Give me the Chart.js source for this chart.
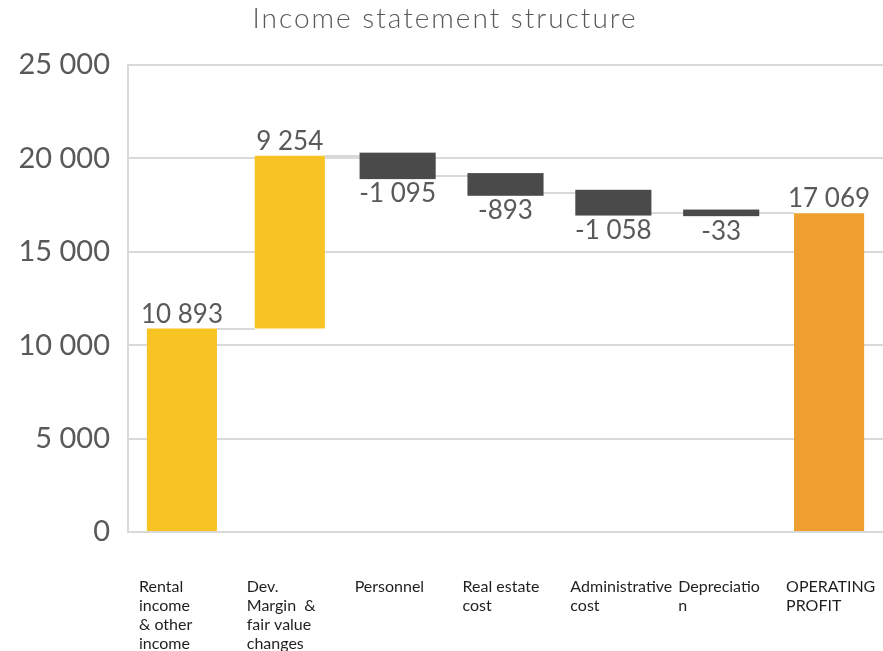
<!DOCTYPE html>
<html>
<head>
<meta charset="utf-8">
<script src="https://cdn.jsdelivr.net/npm/chart.js@4/dist/chart.umd.min.js"></script>
<style>
html,body{margin:0;padding:0;background:#fff;}
#wrap{width:883px;height:651px;position:relative;}
</style>
</head>
<body>
<div id="wrap"><canvas id="c" width="883" height="651"></canvas></div>
<script>
const title = 'Income statement structure';
const categories = [
  ['Rental','income','& other','income'],
  ['Dev.','Margin  &','fair value','changes'],
  ['Personnel'],
  ['Real estate','cost'],
  ['Administrative','cost'],
  ['Depreciatio','n'],
  ['OPERATING','PROFIT']
];
const values = [10893, 9254, -1095, -893, -1058, -33, 17069];
const isTotal = [false, false, false, false, false, false, true];
const yTicks = [0, 5000, 10000, 15000, 20000, 25000];
const colors = {pos:'#F8C424', neg:'#4A4A4A', negEdge:'#4A4A4A', total:'#EF9F30'};

// floating bar ranges built from the values
const ranges = [];
let run = 0;
values.forEach((v,i)=>{
  if (isTotal[i]) { ranges.push([0, v]); run = v; }
  else { ranges.push([run, run + v]); run += v; }
});
const barColors = values.map((v,i)=> isTotal[i] ? colors.total : (v < 0 ? colors.neg : colors.pos));

function fmt(n){
  const s = Math.abs(n).toString().replace(/\B(?=(\d{3})+(?!\d))/g,' ');
  return (n<0?'-':'') + s;
}

const FONT = 'Lato, "Open Sans", sans-serif';
const TXT = '#595959';

const waterfall = {
  id:'waterfall',
  afterDatasetsDraw(chart){
    const ctx = chart.ctx;
    const meta = chart.getDatasetMeta(0);
    const y = chart.scales.y;
    const ca = chart.chartArea;
    ctx.save();
    // connectors
    ctx.strokeStyle = '#D9D9D9';
    ctx.lineWidth = 2;
    for (let i=0;i<ranges.length-1;i++){
      const level = ranges[i][1];
      const b1 = meta.data[i], b2 = meta.data[i+1];
      const py = Math.round(y.getPixelForValue(level));
      ctx.beginPath();
      ctx.moveTo(b1.x + b1.width/2, py);
      ctx.lineTo(b2.x - b2.width/2, py);
      ctx.stroke();
    }
    // outline of negative bars (shape outline, outside)
    values.forEach((v,i)=>{
      if (v >= 0 || isTotal[i]) return;
      const b = meta.data[i];
      const p0 = y.getPixelForValue(ranges[i][0]), p1 = y.getPixelForValue(ranges[i][1]);
      const top = Math.min(p0,p1), bot = Math.max(p0,p1);
      ctx.strokeStyle = colors.negEdge;
      ctx.lineWidth = 6;
      ctx.lineJoin = 'miter';
      ctx.strokeRect(b.x - b.width/2, top, b.width, bot - top);
    });
    // value labels
    ctx.fillStyle = TXT;
    ctx.font = '26px ' + FONT;
    ctx.textAlign = 'center';
    values.forEach((v,i)=>{
      const b = meta.data[i];
      const p0 = y.getPixelForValue(ranges[i][0]), p1 = y.getPixelForValue(ranges[i][1]);
      const top = Math.min(p0,p1), bot = Math.max(p0,p1);
      if (v >= 0){
        ctx.textBaseline = 'alphabetic';
        ctx.fillText(fmt(v), b.x, top - 6);
      } else {
        ctx.textBaseline = 'top';
        ctx.fillText(fmt(v), b.x, bot + 5);
      }
    });
    // category labels
    ctx.fillStyle = '#1f1f1f';
    ctx.font = '16px ' + FONT;
    ctx.textAlign = 'left';
    ctx.textBaseline = 'middle';
    categories.forEach((lines,i)=>{
      const b = meta.data[i];
      lines.forEach((t,k)=>{
        ctx.fillText(t, b.x - 43, ca.bottom + 55 + k*19);
      });
    });
    // title
    ctx.fillStyle = TXT;
    ctx.font = '300 28px ' + FONT;
    ctx.textAlign = 'center';
    ctx.letterSpacing = '2px';
    ctx.fillText(title, 445, 19);
    ctx.letterSpacing = '0px';
    ctx.restore();
  }
};

new Chart(document.getElementById('c'), {
  type:'bar',
  data:{
    labels: categories.map(l=>l.join(' ')),
    datasets:[{
      data: ranges,
      backgroundColor: barColors,
      borderWidth: 0,
      borderSkipped: false,
      barPercentage: 0.65,
      categoryPercentage: 1.0
    }]
  },
  options:{
    responsive:false,
    animation:false,
    layout:{padding:{left:0,right:0,top:65,bottom:119}},
    plugins:{
      legend:{display:false},
      tooltip:{enabled:false},
      title:{display:false}
    },
    scales:{
      x:{
        display:false
      },
      y:{
        min:0, max:25000,
        afterBuildTicks(scale){ scale.ticks = yTicks.map(v=>({value:v})); },
        afterFit(scale){ scale.width = 128; },
        grid:{color:'#D9D9D9', lineWidth:2, drawTicks:false},
        border:{display:true, color:'#D9D9D9', width:2},
        ticks:{
          color:TXT,
          font:{family:FONT, size:29, weight:'normal'},
          padding:18,
          callback:(v)=>fmt(v)
        }
      }
    }
  },
  plugins:[waterfall]
});
</script>
</body>
</html>
